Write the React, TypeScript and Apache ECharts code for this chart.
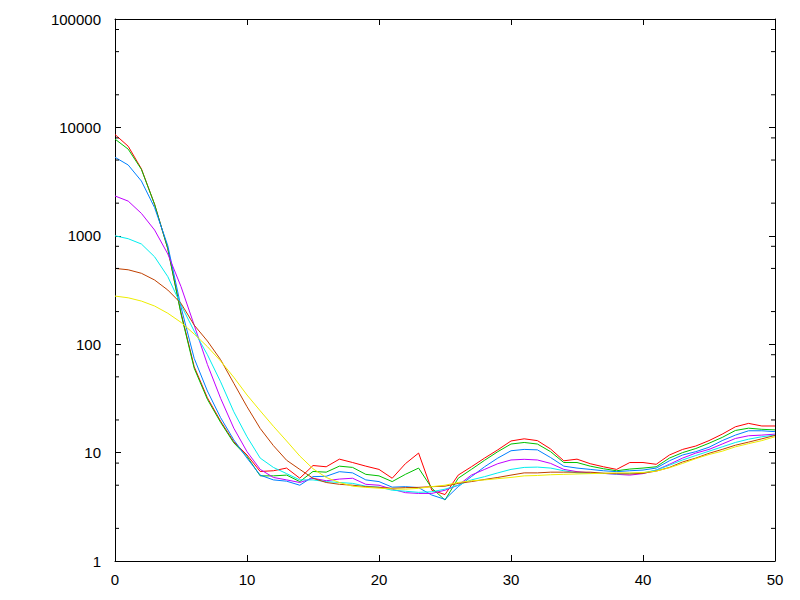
import React, { useEffect, useRef } from "react";
import * as echarts from "echarts";

const xValues = Array.from({ length: 51 }, (_, i) => i);

const redSeries = [8600, 6700, 4150, 1950, 760, 195, 62, 32, 19.5, 12.6, 9.5, 6.7, 6.8, 7.2, 5.8, 7.6, 7.4, 8.7, 8.1, 7.5, 7.0, 5.8, 7.9, 9.9, 4.5, 4.1, 6.2, 7.4, 8.9, 10.6, 12.8, 13.4, 12.9, 10.8, 8.4, 8.7, 7.9, 7.4, 7.0, 8.1, 8.1, 7.8, 9.5, 10.7, 11.5, 12.9, 14.8, 17.3, 18.6, 17.6, 17.6];
const greenSeries = [7800, 6300, 4100, 1950, 760, 190, 60, 31, 19, 12.3, 9.2, 6.1, 6.1, 6.2, 5.4, 6.7, 6.6, 7.5, 7.3, 6.3, 6.1, 5.4, 6.3, 7.2, 4.7, 3.65, 5.8, 7.0, 8.5, 10.2, 12.0, 12.4, 12.0, 10.2, 8.1, 8.1, 7.5, 7.1, 6.8, 7.05, 7.2, 7.4, 8.9, 10.0, 10.9, 12.2, 13.8, 16.0, 16.8, 16.4, 16.2];
const blueSeries = [5300, 4500, 3200, 1820, 810, 220, 74, 37, 21, 13.1, 8.9, 6.2, 5.6, 5.45, 5.0, 6.0, 6.05, 6.67, 6.5, 5.6, 5.4, 4.8, 4.85, 4.75, 4.06, 3.7, 4.85, 6.0, 7.4, 8.9, 10.4, 10.7, 10.6, 9.0, 7.5, 7.2, 7.0, 6.8, 6.67, 6.8, 6.9, 7.2, 8.4, 9.5, 10.2, 11.2, 12.9, 14.5, 15.9, 15.9, 15.6];
const magentaSeries = [2330, 2090, 1610, 1130, 680, 340, 150, 65, 31.7, 16.8, 10.2, 7.0, 5.9, 5.6, 5.3, 5.8, 5.5, 5.7, 5.8, 5.1, 5.0, 4.6, 4.27, 4.2, 4.2, 4.5, 5.0, 6.2, 7.0, 7.9, 8.55, 8.67, 8.55, 7.95, 7.0, 6.67, 6.5, 6.43, 6.3, 6.2, 6.4, 6.9, 7.8, 8.9, 9.9, 10.7, 12.0, 13.5, 14.3, 14.5, 14.8];
const cyanSeries = [1000, 940, 840, 640, 420, 230, 132, 80, 45, 23.8, 14, 8.9, 7.3, 6.4, 5.6, 5.6, 5.4, 5.3, 5.2, 4.9, 4.8, 4.5, 4.4, 4.3, 4.35, 4.6, 5.0, 5.6, 6.0, 6.5, 7.0, 7.3, 7.35, 7.2, 6.8, 6.5, 6.43, 6.43, 6.35, 6.43, 6.5, 6.9, 7.65, 8.55, 9.4, 10.3, 11.3, 12.4, 13.3, 14.0, 14.5];
const brownSeries = [500, 486, 451, 391, 316, 238, 150, 107, 72, 43.6, 26.5, 16.7, 11.6, 8.5, 7.0, 5.8, 5.3, 5.1, 5.0, 4.85, 4.78, 4.68, 4.75, 4.78, 4.85, 4.9, 5.2, 5.4, 5.65, 5.9, 6.2, 6.5, 6.5, 6.6, 6.6, 6.6, 6.6, 6.45, 6.4, 6.35, 6.45, 6.75, 7.3, 8.2, 8.9, 9.85, 10.7, 11.7, 12.5, 13.4, 14.4];
const yellowSeries = [278, 268, 250, 225, 193, 159, 124, 95, 70, 49.5, 34, 24.3, 17.5, 12.8, 9.3, 7.1, 5.9, 5.3, 4.9, 4.78, 4.7, 4.62, 4.6, 4.68, 4.85, 5.0, 5.3, 5.5, 5.6, 5.75, 5.9, 6.1, 6.15, 6.25, 6.3, 6.35, 6.4, 6.45, 6.5, 6.5, 6.55, 6.75, 7.25, 7.95, 8.8, 9.6, 10.3, 11.3, 12.1, 12.9, 14.0];

const seriesList = [redSeries, greenSeries, blueSeries, magentaSeries, cyanSeries, brownSeries, yellowSeries];
const seriesColors = ["#ff0000", "#00c000", "#0080ff", "#c000ff", "#00eeee", "#c04000", "#eeee00"];

const xMin = 0;
const xMax = 50;
const xInterval = 10;
const yMin = 1;
const yMax = 100000;
const minorMultipliers = [2, 5, 8];
const decades = [1, 10, 100, 1000, 10000];

export default function App() {
  const ref = useRef<HTMLDivElement>(null);
  useEffect(() => {
    if (!ref.current) return;
    const chart = echarts.init(ref.current, null, { renderer: "svg" });
    const minorValues: number[] = [];
    decades.forEach((d) => minorMultipliers.forEach((m) => minorValues.push(d * m)));

    const font = "Liberation Sans";
    const labelStyle = { color: "#000", fontFamily: font, fontSize: 15 };

    const lineSeries = seriesList.map((arr, i) => ({
      type: "line",
      data: arr.map((v, j) => [xValues[j], v]),
      showSymbol: false,
      symbol: "none",
      lineStyle: { color: seriesColors[i], width: 1 },
      itemStyle: { color: seriesColors[i] },
      silent: true,
      z: 2 + i,
    }));

    const minorTickSeries = {
      type: "custom",
      silent: true,
      z: 10,
      data: minorValues.map((v) => [xMin, v]),
      renderItem: (params: any, api: any) => {
        const v = api.value(1);
        const p = api.coord([xMin, v]);
        const q = api.coord([xMax, v]);
        return {
          type: "group",
          children: [
            { type: "line", shape: { x1: p[0], y1: p[1], x2: p[0] + 4, y2: p[1] }, style: { stroke: "#000", lineWidth: 1 } },
            { type: "line", shape: { x1: q[0] - 4, y1: q[1], x2: q[0], y2: q[1] }, style: { stroke: "#000", lineWidth: 1 } },
          ],
        };
      },
    };

    chart.setOption({
      animation: false,
      backgroundColor: "#fff",
      grid: { left: 115, right: 25, top: 19, bottom: 39, containLabel: false },
      xAxis: [
        {
          type: "value",
          min: xMin,
          max: xMax,
          interval: xInterval,
          axisLine: { show: true, onZero: false, lineStyle: { color: "#000", width: 1 } },
          axisTick: { show: true, inside: true, length: 6, lineStyle: { color: "#000" } },
          axisLabel: { ...labelStyle, margin: 11 },
          splitLine: { show: false },
        },
        {
          type: "value",
          position: "top",
          min: xMin,
          max: xMax,
          interval: xInterval,
          axisLine: { show: true, onZero: false, lineStyle: { color: "#000", width: 1 } },
          axisTick: { show: true, inside: true, length: 6, lineStyle: { color: "#000" } },
          axisLabel: { show: false },
          splitLine: { show: false },
        },
      ],
      yAxis: [
        {
          type: "log",
          logBase: 10,
          min: yMin,
          max: yMax,
          axisLine: { show: true, onZero: false, lineStyle: { color: "#000", width: 1 } },
          axisTick: { show: true, inside: true, length: 6, lineStyle: { color: "#000" } },
          axisLabel: { ...labelStyle, margin: 14, formatter: (v: number) => String(Math.round(v)) },
          splitLine: { show: false },
        },
        {
          type: "log",
          logBase: 10,
          position: "right",
          min: yMin,
          max: yMax,
          axisLine: { show: true, onZero: false, lineStyle: { color: "#000", width: 1 } },
          axisTick: { show: true, inside: true, length: 6, lineStyle: { color: "#000" } },
          axisLabel: { show: false },
          splitLine: { show: false },
        },
      ],
      series: [...lineSeries, minorTickSeries],
    });
    return () => chart.dispose();
  }, []);
  return <div ref={ref} style={{ position: "fixed", left: 0, top: 0, width: 800, height: 600, background: "#fff" }} />;
}
